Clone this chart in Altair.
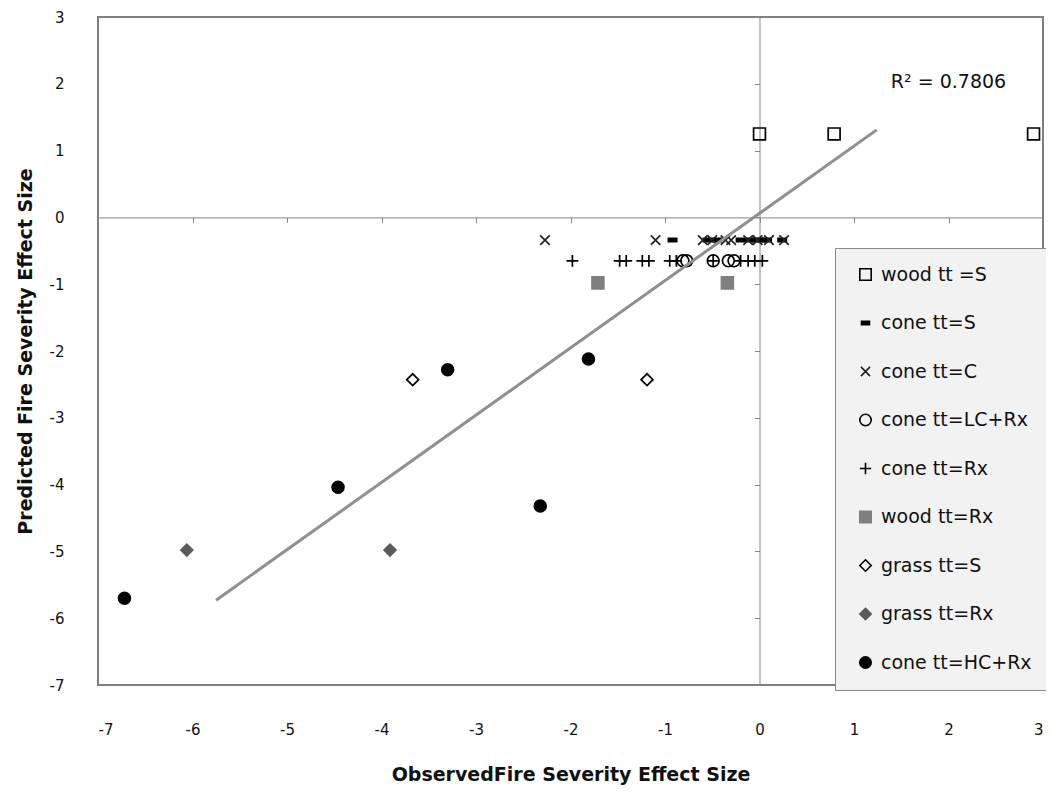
import altair as alt
import pandas as pd

# ---- data ----
series_names = ["wood tt =S", "cone tt=S", "cone tt=C", "cone tt=LC+Rx", "cone tt=Rx",
                "wood tt=Rx", "grass tt=S", "grass tt=Rx", "cone tt=HC+Rx"]

wood_s_x = [0.0, 0.79, 2.9]
wood_s_y = [1.25, 1.25, 1.25]

cone_s_x = [-0.92, -0.55, -0.45, -0.2, -0.1, -0.03, 0.03, 0.08, 0.24]
cone_s_y = [-0.34, -0.34, -0.34, -0.34, -0.34, -0.34, -0.34, -0.34, -0.34]

cone_c_x = [-2.27, -1.1, -0.6, -0.5, -0.36, -0.3, -0.12, -0.02, 0.1, 0.26]
cone_c_y = [-0.34, -0.34, -0.34, -0.34, -0.34, -0.34, -0.34, -0.34, -0.34, -0.34]

cone_lcrx_x = [-0.81, -0.77, -0.49, -0.33, -0.27]
cone_lcrx_y = [-0.65, -0.65, -0.65, -0.65, -0.65]

cone_rx_x = [-1.98, -1.48, -1.41, -1.24, -1.17, -0.95, -0.88, -0.49, -0.2, -0.12, -0.05, 0.03]
cone_rx_y = [-0.65, -0.65, -0.65, -0.65, -0.65, -0.65, -0.65, -0.65, -0.65, -0.65, -0.65, -0.65]

wood_rx_x = [-1.71, -0.34]
wood_rx_y = [-0.98, -0.98]

grass_s_x = [-3.67, -1.19]
grass_s_y = [-2.43, -2.43]

grass_rx_x = [-6.06, -3.91]
grass_rx_y = [-4.98, -4.98]

cone_hcrx_x = [-6.72, -4.46, -3.30, -2.32, -1.81]
cone_hcrx_y = [-5.70, -4.04, -2.28, -4.32, -2.12]

trend_x = [-5.75, 1.24]
trend_y = [-5.73, 1.31]

r2_label = "R\u00b2 = 0.7806"
r2_x = [2.0]
r2_y = [2.03]

x_ticks = [-7, -6, -5, -4, -3, -2, -1, 0, 1, 2, 3]
y_ticks = [-7, -6, -5, -4, -3, -2, -1, 0, 1, 2, 3]

series_x = [wood_s_x, cone_s_x, cone_c_x, cone_lcrx_x, cone_rx_x,
            wood_rx_x, grass_s_x, grass_rx_x, cone_hcrx_x]
series_y = [wood_s_y, cone_s_y, cone_c_y, cone_lcrx_y, cone_rx_y,
            wood_rx_y, grass_s_y, grass_rx_y, cone_hcrx_y]

rows = []
for order, (name, xs, ys) in enumerate(zip(series_names, series_x, series_y)):
    for xv, yv in zip(xs, ys):
        rows.append({"series": name, "obs": xv, "pred": yv, "order": order})
pts = pd.DataFrame(rows)
trend = pd.DataFrame({"obs": trend_x, "pred": trend_y})
r2 = pd.DataFrame({"obs": r2_x, "pred": r2_y, "label": [r2_label]})

# ---- styling ----
FONT = "DejaVu Sans"
W, H = 945, 668
xdom = [-7, 3]
ydom = [-7, 3]
GRAY = "#868686"
LABEL_EXPR = "'' + datum.value"

dash = "M-0.7,-0.28L0.7,-0.28L0.7,0.28L-0.7,0.28Z"
xshape = "M-0.8,-0.8L0.8,0.8M-0.8,0.8L0.8,-0.8"
plus = "M-1,0L1,0M0,-1L0,1"

shapes = ["square", dash, xshape, "circle", plus, "square", "diamond", "diamond", "circle"]
fills = ["transparent", "black", "transparent", "transparent", "transparent",
         "#7f7f7f", "transparent", "#5a5a5a", "black"]
strokes = ["black", "black", "#222222", "black", "black", "#7f7f7f", "black", "#5a5a5a", "black"]

legend = alt.Legend(
    orient="none", legendX=737, legendY=231, title=None,
    fillColor="#f2f2f2", strokeColor="#8a8a8a", padding=17,
    rowPadding=28.5, labelFont=FONT, labelFontSize=19, labelColor="#111111",
    symbolSize=130, symbolStrokeWidth=1.6, labelOffset=6, symbolOffset=4,
    labelLimit=300,
)

xscale = alt.Scale(domain=xdom, nice=False, zero=False)
yscale = alt.Scale(domain=ydom, nice=False, zero=False)

points = alt.Chart(pts).mark_point(size=140, strokeWidth=1.7, opacity=1).encode(
    x=alt.X("obs:Q", scale=xscale,
            axis=alt.Axis(values=x_ticks, domain=False, ticks=False, grid=False,
                          labelExpr=LABEL_EXPR,
                          labelPadding=37, labelFont=FONT, labelFontSize=15,
                          labelColor="#111111",
                          title="ObservedFire Severity Effect Size",
                          titleFont=FONT, titleFontSize=19, titleFontWeight="bold",
                          titleColor="#111111", titlePadding=28)),
    y=alt.Y("pred:Q", scale=yscale,
            axis=alt.Axis(values=y_ticks, domain=False, ticks=False, grid=False,
                          labelExpr=LABEL_EXPR,
                          labelPadding=34, labelFont=FONT, labelFontSize=15,
                          labelColor="#111111",
                          title="Predicted Fire Severity Effect Size",
                          titleFont=FONT, titleFontSize=19, titleFontWeight="bold",
                          titleColor="#111111", titlePadding=14)),
    shape=alt.Shape("series:N", scale=alt.Scale(domain=series_names, range=shapes), legend=legend),
    fill=alt.Fill("series:N", scale=alt.Scale(domain=series_names, range=fills), legend=legend),
    stroke=alt.Stroke("series:N", scale=alt.Scale(domain=series_names, range=strokes), legend=legend),
    order=alt.Order("order:Q"),
)

trend_line = alt.Chart(trend).mark_line(color="#8f8f8f", strokeWidth=3).encode(
    x=alt.X("obs:Q", scale=xscale,
            axis=alt.Axis(orient="bottom", offset=-(H * 0.7), values=x_ticks, labels=False,
                          domain=True, domainColor=GRAY, domainWidth=1,
                          ticks=True, tickColor=GRAY, tickSize=5, grid=False, title=None)),
    y=alt.Y("pred:Q", scale=yscale,
            axis=alt.Axis(orient="left", offset=-(W * 0.7), values=y_ticks, labels=False,
                          domain=True, domainColor=GRAY, domainWidth=1,
                          ticks=True, tickColor=GRAY, tickSize=5, grid=False, title=None)),
)

r2_text = alt.Chart(r2).mark_text(font=FONT, fontSize=19, color="#111111",
                                  align="center", baseline="middle").encode(
    x=alt.X("obs:Q", scale=xscale, axis=None),
    y=alt.Y("pred:Q", scale=yscale, axis=None),
    text="label:N",
)

chart = alt.layer(points, r2_text, trend_line).resolve_axis(
    x="independent", y="independent"
).properties(
    width=W, height=H,
    padding={"left": 90, "top": 9, "right": 3, "bottom": 101},
    autosize=alt.AutoSizeParams(type="none"),
    background="white",
).configure_view(stroke="#7f7f7f", strokeWidth=2)

chart.save("out.html", embed_options={"renderer": "svg", "actions": False})
